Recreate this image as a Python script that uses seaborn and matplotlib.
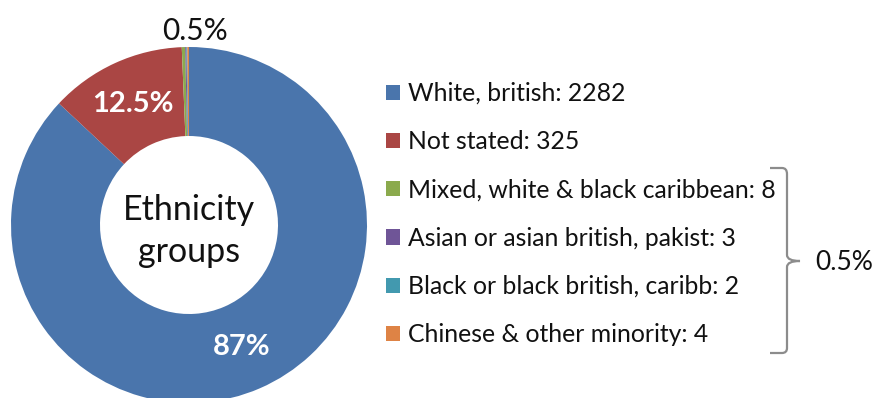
import numpy as np
import matplotlib
matplotlib.use("Agg")
import matplotlib.pyplot as plt
import seaborn as sns
from matplotlib.path import Path
from matplotlib.patches import PathPatch

# ---- data ----
categories = ["White, british", "Not stated", "Mixed, white & black caribbean",
              "Asian or asian british, pakist", "Black or black british, caribb",
              "Chinese & other minority"]
counts = [2282, 325, 8, 3, 2, 4]
slice_labels = ["87%", "12.5%"]
small_group_label = "0.5%"
center_label = "Ethnicity\ngroups"
colors = ["#4A75AC", "#AA4644", "#8BAA4D", "#6F5597", "#4299AF", "#DE8345"]

sns.set_theme(style="white")
plt.rcParams["font.family"] = ["Lato", "DejaVu Sans"]

W, H = 879, 398
fig = plt.figure(figsize=(W / 100, H / 100), dpi=100)
fig.patch.set_facecolor("white")

cx, cy, R = 189, 225, 178
ax = fig.add_axes([(cx - R) / W, (H - cy - R) / H, 2 * R / W, 2 * R / H])

pal = sns.color_palette(colors)
wedges, _ = ax.pie(counts, colors=pal, startangle=90, counterclock=False,
                   radius=1.0, wedgeprops=dict(width=0.5, linewidth=0))
ax.set_xlim(-1, 1)
ax.set_ylim(-1, 1)
ax.set_aspect("equal")
ax.axis("off")

# labels on the two big slices
for w, lab in zip(wedges[:2], slice_labels):
    ang = np.deg2rad((w.theta1 + w.theta2) / 2)
    ax.text(0.75 * np.cos(ang), 0.75 * np.sin(ang), lab, ha="center", va="center",
            color="white", fontsize=21, fontweight="bold")

# label for the small group, outside
ax.text(0.035, 1.09, small_group_label, ha="center", va="center",
        color="#111111", fontsize=21.5, clip_on=False)

ax.text(0, -0.035, center_label, ha="center", va="center", fontsize=24.5,
        color="#111111", linespacing=1.4)

legend_labels = [f"{c}: {n}" for c, n in zip(categories, counts)]
fs = 17.8
leg = fig.legend(wedges, legend_labels, loc="upper left",
                 bbox_to_anchor=(386 / W, 1 - 82 / H), bbox_transform=fig.transFigure,
                 frameon=False, fontsize=fs, handlelength=0.57, handleheight=0.57,
                 handletextpad=0.32, labelspacing=1.02, borderpad=0, borderaxespad=0)
for t in leg.get_texts():
    t.set_color("#111111")

# bracket
def fx(x):
    return x / W
def fy(y):
    return 1 - y / H

verts = [(770, 168), (782, 168), (787, 168), (787, 174), (787, 255), (787, 261),
         (800, 261), (787, 261), (787, 267), (787, 348), (787, 353), (782, 353),
         (770, 353)]
codes = [Path.MOVETO, Path.LINETO, Path.CURVE3, Path.CURVE3, Path.LINETO,
         Path.CURVE3, Path.CURVE3, Path.CURVE3, Path.CURVE3, Path.LINETO,
         Path.CURVE3, Path.CURVE3, Path.LINETO]
path = Path([(fx(x), fy(y)) for x, y in verts], codes)
fig.patches.append(PathPatch(path, transform=fig.transFigure, fill=False,
                             edgecolor="#8C8C8C", linewidth=1.6))
fig.text(fx(815), fy(262), small_group_label, ha="left", va="center",
         fontsize=19, color="#111111")

fig.savefig("out.png", dpi=100, facecolor="white")
